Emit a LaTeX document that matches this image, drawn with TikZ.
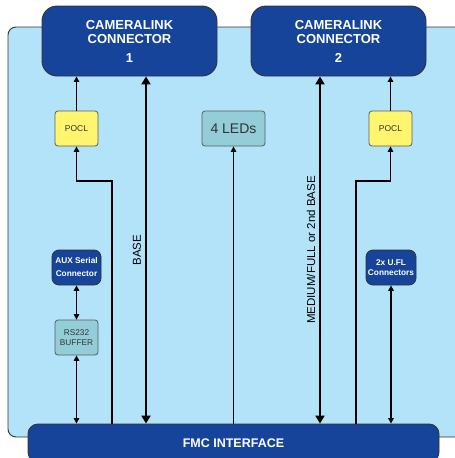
\documentclass[tikz,border=0pt]{standalone}
\usepackage{fontspec}
\setmainfont{Liberation Sans}
\usetikzlibrary{arrows.meta,calc}
\definecolor{darkblue}{HTML}{17449B}
\definecolor{board}{HTML}{B2E3F9}
\definecolor{pyellow}{HTML}{FFF56E}
\definecolor{teal}{HTML}{92CDD8}
\definecolor{edge}{HTML}{333333}
\begin{document}
\begin{tikzpicture}[x=1pt,y=-1pt,
  bigbox/.style={draw=edge,line width=0.9pt,fill=darkblue,text=white,rounded corners=15pt,
    minimum width=175pt,minimum height=70pt,align=center,font=\bfseries\fontsize{13}{14}\selectfont,inner sep=0pt},
  smallblue/.style={draw=edge,line width=0.8pt,fill=darkblue,text=white,rounded corners=7pt,
    minimum width=49pt,minimum height=35pt,align=center,inner sep=0pt},
  poclbox/.style={draw=edge!80,line width=0.8pt,fill=pyellow,rounded corners=3pt,
    minimum width=43pt,minimum height=35pt,inner sep=0pt,text=edge,font=\fontsize{8.5}{9}\selectfont},
  tealbox/.style={draw=edge!80,line width=0.8pt,fill=teal,rounded corners=3pt,
    minimum height=35pt,inner sep=0pt,align=center,text=edge},
  thinarr/.style={line width=1.3pt,-{Triangle[width=5.5pt,length=5.5pt]}},
  thinboth/.style={line width=1.3pt,{Triangle[width=5.5pt,length=5.5pt]}-{Triangle[width=5.5pt,length=5.5pt]}},
  thickboth/.style={line width=2.6pt,{Triangle[width=9pt,length=8pt]}-{Triangle[width=9pt,length=8pt]}},
  vlabel/.style={rotate=90,font=\fontsize{11.5}{12}\selectfont,inner sep=0pt}
]
\useasboundingbox (0,0) rectangle (455,458);
\clip (0,0) rectangle (455,458);
% board
\draw[fill=board,draw=edge,line width=0.9pt,rounded corners=8pt] (8,27) rectangle (470,437);
% main boxes
\node[bigbox] (cam1) at (129.5,41) {CAMERALINK\\CONNECTOR\\[5pt]1};
\node[bigbox] (cam2) at (338.5,41) {CAMERALINK\\CONNECTOR\\[5pt]2};
\node[draw=edge,line width=0.9pt,fill=darkblue,text=white,rounded corners=10pt,
  minimum width=411pt,minimum height=38pt,inner sep=0pt,font=\bfseries\fontsize{12.5}{13}\selectfont] (fmc) at (233.5,443) {FMC INTERFACE};
% small boxes
\node[poclbox] (pocl1) at (76.5,128.5) {POCL};
\node[poclbox] (pocl2) at (390.5,128.5) {POCL};
\node[tealbox,minimum width=63pt,font=\fontsize{14}{15}\selectfont] (leds) at (233.5,128.5) {4 LEDs};
\node[smallblue,font=\bfseries\fontsize{8.3}{13}\selectfont] (aux) at (76.5,267.5) {AUX Serial\\Connector};
\node[smallblue,minimum width=50pt,font=\bfseries\fontsize{8.3}{9.3}\selectfont] (ufl) at (391,267.5) {2x U.FL\\Connectors};
\node[tealbox,minimum width=43pt,font=\fontsize{8.3}{9.3}\selectfont] (rs) at (76.5,337.5) {RS232\\BUFFER};
% coordinates
\coordinate (j1) at (112,181);
\coordinate (j2) at (356,181);
\coordinate (xb) at (146,0);
\coordinate (xm) at (320,0);
% connectors
\draw[thinarr] (pocl1.north) -- (pocl1.north |- cam1.south);
\draw[thinarr] (pocl2.north) -- (pocl2.north |- cam2.south);
\draw[thinarr] (j1 |- fmc.north) -- (j1) -| (pocl1.south);
\draw[thinarr] (j2 |- fmc.north) -- (j2) -| (pocl2.south);
\draw[thickboth] (xb |- fmc.north) -- (xb |- cam1.south);
\draw[thickboth] (xm |- fmc.north) -- (xm |- cam2.south);
\draw[thinarr] (leds.south |- fmc.north) -- (leds.south);
\draw[thinboth] (ufl.south |- fmc.north) -- (ufl.south);
\draw[thinboth] (aux.south) -- (rs.north);
\draw[thinboth] (rs.south |- fmc.north) -- (rs.south);
% labels
\node[vlabel] (lbase) at (137,250) {BASE};
\node[vlabel] (lmed) at (311,250) {MEDIUM/FULL or 2nd BASE};
\end{tikzpicture}
\end{document}
